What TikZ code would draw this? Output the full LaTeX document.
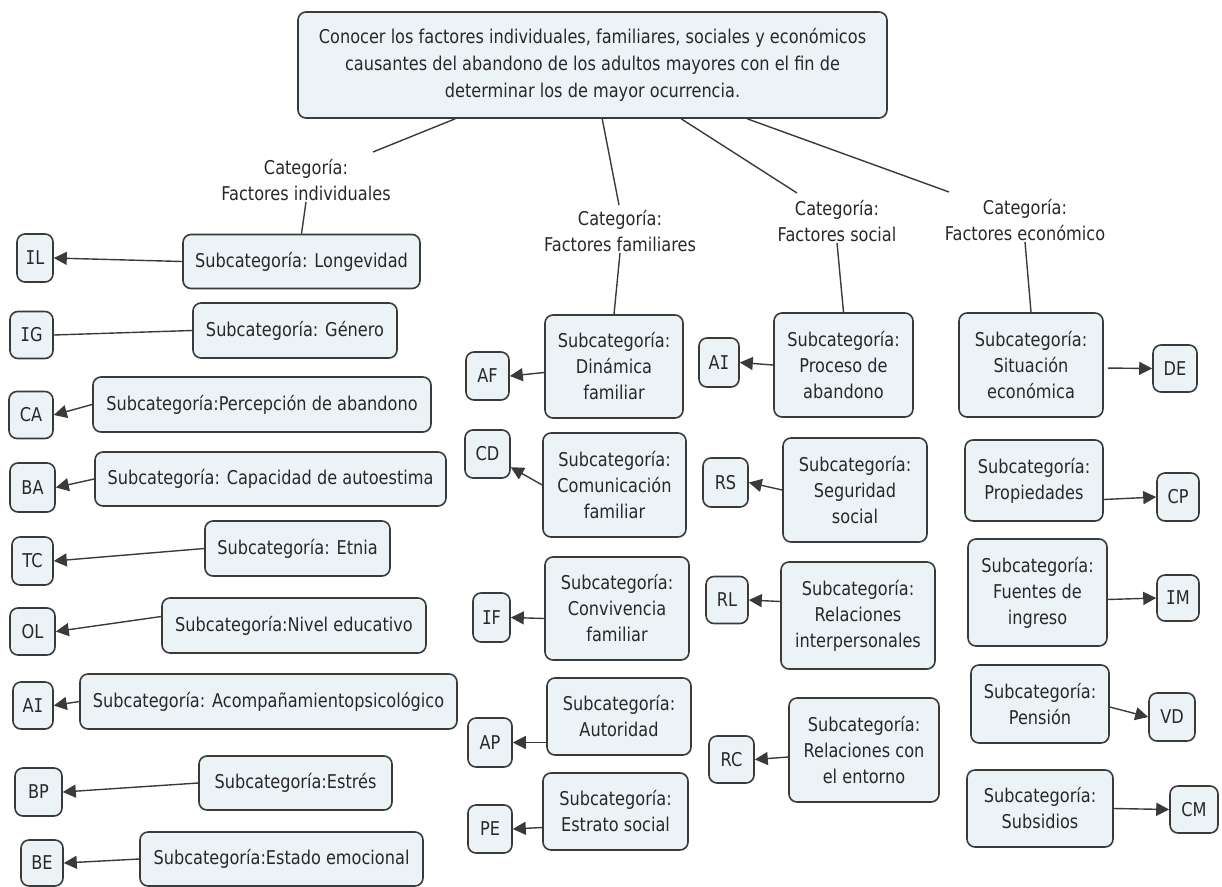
\documentclass[tikz,border=0pt]{standalone}
\usepackage{fontspec}
\setmainfont{DejaVu Sans}[FakeStretch=0.85]
\newfontfamily\serifI{DejaVu Sans Mono}[FakeStretch=0.85]
\newcommand{\Ii}{{\serifI I}}
\usetikzlibrary{arrows.meta}
\definecolor{boxfill}{RGB}{236,243,246}
\definecolor{boxline}{RGB}{58,58,58}
\definecolor{txt}{RGB}{40,40,40}
\tikzset{
  box/.style={draw=boxline, line width=1.6pt, fill=boxfill, rounded corners=8pt,
    inner sep=0pt, align=center, text=txt, font=\fontsize{19}{26}\selectfont},
  cat/.style={inner sep=1pt, align=center, text=txt, font=\fontsize{19}{26}\selectfont},
  link/.style={draw=boxline, line width=1.4pt},
  arr/.style={link, -{Triangle[length=13pt,width=13pt]}},
}
\newcommand{\bx}[6]{\node[box, minimum width=#4pt, minimum height=#5pt] (#1) at (#2,#3) {#6};}
\begin{document}
\begin{tikzpicture}[x=1pt,y=-1pt]
\useasboundingbox (0,0) rectangle (1222,886);
% top
\node[box, minimum width=589pt, minimum height=106pt, font=\fontsize{19}{27}\selectfont] (top) at (592.5,65)
 {Conocer los factores individuales, familiares, sociales y económicos\\causantes del abandono de los adultos mayores con el fin de\\determinar los de mayor ocurrencia.};
% categories
\node[cat] (catI) at (306,180) {Categoría:\\Factores individuales};
\node[cat] (catF) at (620,231) {Categoría:\\Factores familiares};
\node[cat] (catS) at (837,221) {Categoría:\\Factores social};
\node[cat] (catE) at (1025,220) {Categoría:\\Factores económico};
\coordinate (eI) at (373,152);
\coordinate (eF) at (619,205);
\coordinate (eS) at (797,193);
\coordinate (eE) at (949,192);
\draw[link] ([xshift=158pt]top.south west) -- (eI);
\draw[link] ([xshift=305pt]top.south west) -- (eF);
\draw[link] ([xshift=384pt]top.south west) -- (eS);
\draw[link] ([xshift=450pt]top.south west) -- (eE);
% individual
\bx{lon}{301.5}{261.5}{237}{54}{Subcategoría: Longevidad}
\bx{gen}{295}{330.5}{204}{55}{Subcategoría: Género}
\bx{per}{262}{404.5}{338}{55}{Subcategoría:Percepción de abandono}
\bx{cap}{270.5}{479}{351}{54}{Subcategoría: Capacidad de autoestima}
\bx{etn}{297.5}{548.5}{185}{55}{Subcategoría: Etnia}
\bx{niv}{294}{625.5}{264}{55}{Subcategoría:Nivel educativo}
\bx{aco}{268.5}{701.5}{377}{55}{Subcategoría: Acompañamientopsicológico}
\bx{est}{295.5}{783}{193}{54}{Subcategoría:Estrés}
\bx{emo}{281.5}{859}{283}{54}{Subcategoría:Estado emocional}
\bx{IL}{35}{258}{36}{48}{\Ii L}
\bx{IG}{31.5}{335}{43}{47}{\Ii G}
\bx{CA}{31}{415}{44}{47}{CA}
\bx{BA}{32.5}{487.5}{45}{49}{BA}
\bx{TC}{32.5}{561}{41}{48}{TC}
\bx{OL}{32.5}{631.5}{45}{47}{OL}
\bx{AIa}{33}{705.5}{40}{47}{A\Ii}
\bx{BP}{38.5}{792}{47}{48}{BP}
\bx{BE}{42}{863}{42}{46}{BE}
\draw[link] (catI.south) -- (lon.north);
\draw[arr] (lon.west) -- (IL.east);
\draw[link] (gen.west) -- (IG.east);
\draw[arr] (per.west) -- (CA.east);
\draw[arr] (cap.west) -- (BA.east);
\draw[arr] (etn.west) -- (TC.east);
\draw[arr] ([yshift=9pt]niv.west) -- (OL.east);
\draw[arr] (aco.west) -- (AIa.east);
\draw[arr] (est.west) -- (BP.east);
\draw[arr] (emo.west) -- (BE.east);
% familiar
\bx{din}{614}{366.5}{138}{103}{Subcategoría:\\Dinámica\\familiar}
\bx{com}{614.5}{485}{143}{104}{Subcategoría:\\Comunicación\\familiar}
\bx{con}{617}{608.5}{144}{103}{Subcategoría:\\Convivencia\\familiar}
\bx{aut}{619}{716.5}{144}{77}{Subcategoría:\\Autoridad}
\bx{estr}{615.5}{811.5}{145}{77}{Subcategoría:\\Estrato social}
\bx{AF}{487.5}{376}{43}{48}{AF}
\bx{CD}{487.5}{454}{45}{48}{CD}
\bx{IF}{491.5}{617.5}{37}{49}{\Ii F}
\bx{AP}{490}{742.5}{44}{49}{AP}
\bx{PE}{490}{829}{44}{48}{PE}
\draw[link] (catF.south) -- (din.north);
\draw[arr] ([yshift=-6pt]din.west) -- (AF.east);
\draw[arr] (com.west) -- (CD);
\draw[arr] ([yshift=-10pt]con.west) -- (IF.east);
\draw[arr] ([yshift=-26pt]aut.west) -- (AP.east);
\draw[arr] ([yshift=-16pt]estr.west) -- (PE.east);
% social
\bx{pro}{843.5}{365}{139}{104}{Subcategoría:\\Proceso de\\abandono}
\bx{seg}{855}{490}{144}{104}{Subcategoría:\\Seguridad\\social}
\bx{rel}{858}{615.5}{154}{107}{Subcategoría:\\Relaciones\\interpersonales}
\bx{ent}{864}{750}{150}{104}{Subcategoría:\\Relaciones con\\el entorno}
\bx{AIb}{719}{362.5}{40}{49}{A\Ii}
\bx{RS}{725.5}{482.5}{45}{49}{RS}
\bx{RL}{727}{600}{42}{47}{RL}
\bx{RC}{731.5}{759.5}{45}{47}{RC}
\draw[link] (catS.south) -- (pro.north);
\draw[arr] (pro.west) -- (AIb.east);
\draw[arr] (seg.west) -- (RS.east);
\draw[arr] ([yshift=14pt]rel.west) -- (RL.east);
\draw[arr] ([yshift=-7pt]ent.west) -- (RC.east);
% economico
\bx{sit}{1031}{365}{144}{104}{Subcategoría:\\Situación\\económica}
\bx{prop}{1034}{480.5}{138}{81}{Subcategoría:\\Propiedades}
\bx{fue}{1037.5}{592.5}{139}{107}{Subcategoría:\\Fuentes de\\ingreso}
\bx{pen}{1040}{704}{138}{78}{Subcategoría:\\Pensión}
\bx{sub}{1040}{808.5}{146}{77}{Subcategoría:\\Subsidios}
\bx{DE}{1175}{368.5}{44}{47}{DE}
\bx{CP}{1178}{497}{42}{48}{CP}
\bx{IM}{1178}{598}{42}{46}{\Ii M}
\bx{VD}{1172}{717}{46}{48}{VD}
\bx{CM}{1194}{809.5}{48}{47}{CM}
\draw[link] (catE.south) -- (sit.north);
\draw[arr, shorten <=4pt] ([yshift=-3pt]sit.east) -- (DE.west);
\draw[arr] ([yshift=-19pt]prop.east) -- (CP.west);
\draw[arr] ([yshift=-7pt]fue.east) -- (IM.west);
\draw[arr] ([yshift=-3pt]pen.east) -- (VD.west);
\draw[arr] (sub.east) -- (CM.west);
\end{tikzpicture}
\end{document}
